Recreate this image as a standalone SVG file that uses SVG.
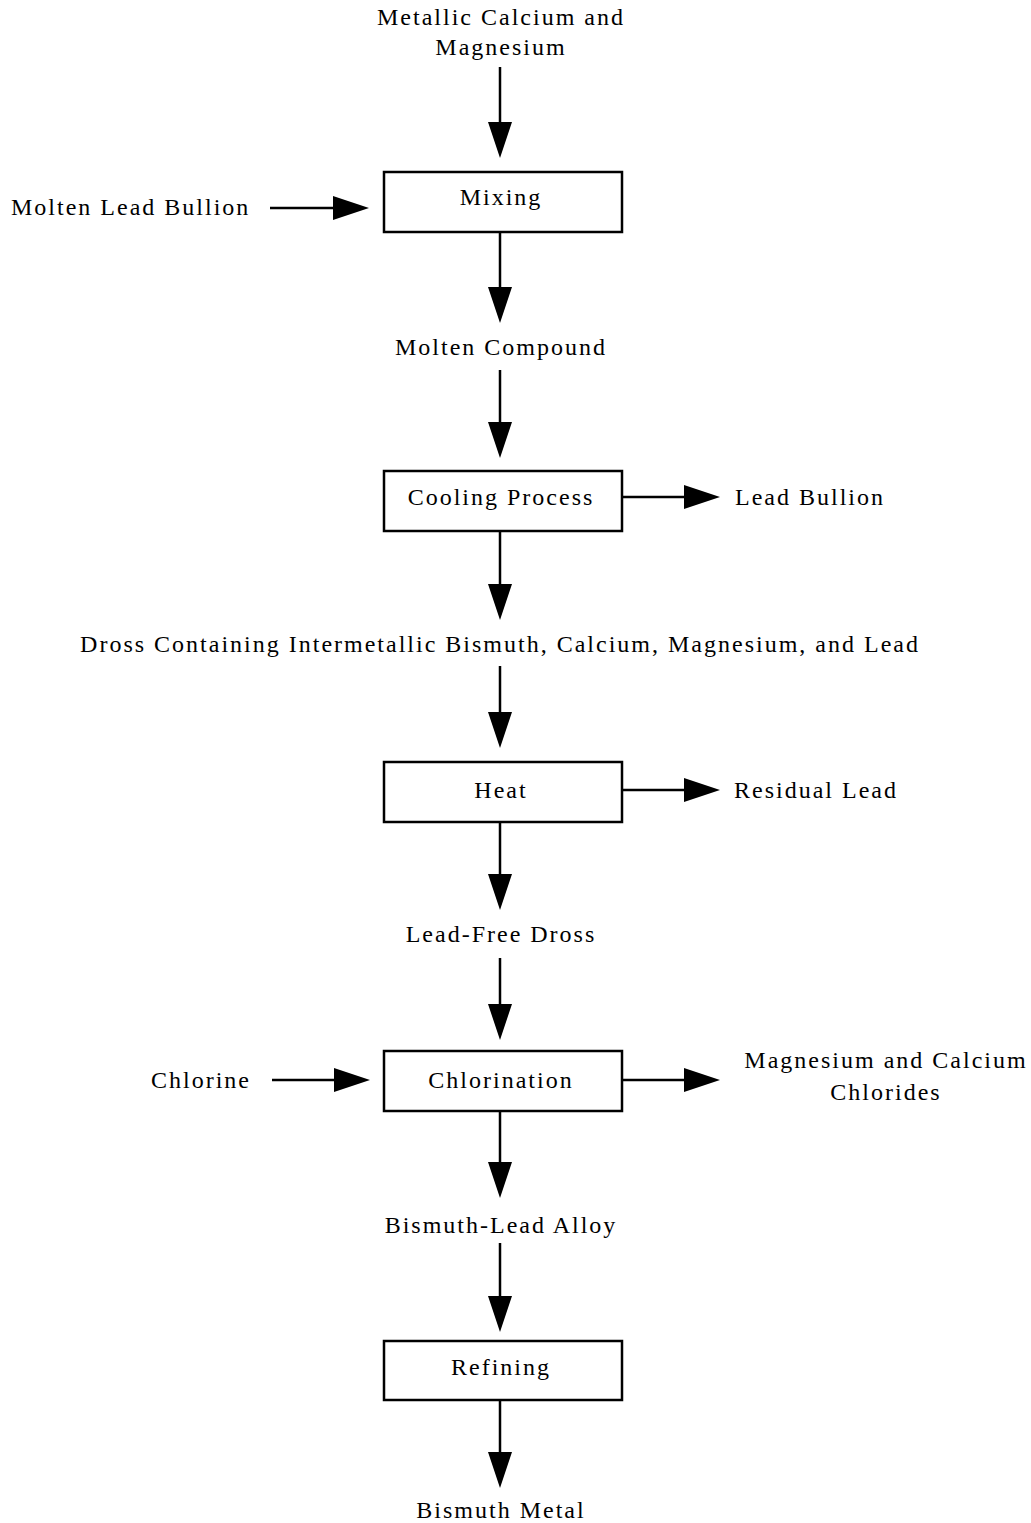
<svg xmlns="http://www.w3.org/2000/svg" width="1031" height="1523" viewBox="0 0 1031 1523">
  <style>
    .lbl { font-family: "Liberation Serif", "Times New Roman", serif; font-size: 24px; letter-spacing: 2px; fill: #000; }
    .mid { text-anchor: middle; }
    .box { fill: #fff; stroke: #000; stroke-width: 2.5; }
    .flow { fill: none; stroke: #000; stroke-width: 2.5; marker-end: url(#head); }
  </style>
  <defs>
    <!-- solid triangular arrowhead; its base sits on the end of each line -->
    <marker id="head" markerUnits="userSpaceOnUse" markerWidth="37" markerHeight="25" refX="0" refY="12" orient="auto" overflow="visible">
      <path d="M0,0 L36,12 L0,24 Z" fill="#000"/>
    </marker>
  </defs>
  <rect width="1031" height="1523" fill="#fff"/>

  <!-- connectors -->
  <g id="connectors">
    <line class="flow" x1="500" y1="67" x2="500" y2="122"/>
    <line class="flow" x1="270" y1="208" x2="333" y2="208"/>
    <line class="flow" x1="500" y1="232" x2="500" y2="287"/>
    <line class="flow" x1="500" y1="370" x2="500" y2="422"/>
    <line class="flow" x1="622" y1="497" x2="684" y2="497"/>
    <line class="flow" x1="500" y1="531" x2="500" y2="584"/>
    <line class="flow" x1="500" y1="666" x2="500" y2="712"/>
    <line class="flow" x1="622" y1="790" x2="684" y2="790"/>
    <line class="flow" x1="500" y1="822" x2="500" y2="874"/>
    <line class="flow" x1="500" y1="958" x2="500" y2="1004"/>
    <line class="flow" x1="272" y1="1080" x2="334" y2="1080"/>
    <line class="flow" x1="622" y1="1080" x2="684" y2="1080"/>
    <line class="flow" x1="500" y1="1111" x2="500" y2="1162"/>
    <line class="flow" x1="500" y1="1243" x2="500" y2="1296"/>
    <line class="flow" x1="500" y1="1400" x2="500" y2="1452"/>
  </g>

  <!-- material streams -->
  <g id="in-metals"><text class="lbl mid" x="501" y="25">Metallic Calcium and</text><text class="lbl mid" x="501" y="55">Magnesium</text></g>
  <g id="in-bullion"><text class="lbl" x="11" y="215">Molten Lead Bullion</text></g>
  <g id="molten-compound"><text class="lbl mid" x="501" y="355">Molten Compound</text></g>
  <g id="out-lead-bullion"><text class="lbl" x="735" y="505">Lead Bullion</text></g>
  <g id="dross"><text class="lbl mid" x="500" y="652">Dross Containing Intermetallic Bismuth, Calcium, Magnesium, and Lead</text></g>
  <g id="out-residual-lead"><text class="lbl" x="734" y="798">Residual Lead</text></g>
  <g id="lead-free-dross"><text class="lbl mid" x="501" y="942">Lead-Free Dross</text></g>
  <g id="in-chlorine"><text class="lbl" x="151" y="1088">Chlorine</text></g>
  <g id="out-chlorides"><text class="lbl mid" x="886" y="1068">Magnesium and Calcium</text><text class="lbl mid" x="886" y="1100">Chlorides</text></g>
  <g id="alloy"><text class="lbl mid" x="501" y="1233">Bismuth-Lead Alloy</text></g>
  <g id="product"><text class="lbl mid" x="501" y="1518">Bismuth Metal</text></g>

  <!-- process steps -->
  <g id="mixing"><rect class="box" x="384" y="172" width="238" height="60"/><text class="lbl mid" x="501" y="205">Mixing</text></g>
  <g id="cooling"><rect class="box" x="384" y="471" width="238" height="60"/><text class="lbl mid" x="501" y="505">Cooling Process</text></g>
  <g id="heat"><rect class="box" x="384" y="762" width="238" height="60"/><text class="lbl mid" x="501" y="798">Heat</text></g>
  <g id="chlorination"><rect class="box" x="384" y="1051" width="238" height="60"/><text class="lbl mid" x="501" y="1088">Chlorination</text></g>
  <g id="refining"><rect class="box" x="384" y="1341" width="238" height="59"/><text class="lbl mid" x="501" y="1375">Refining</text></g>
</svg>
